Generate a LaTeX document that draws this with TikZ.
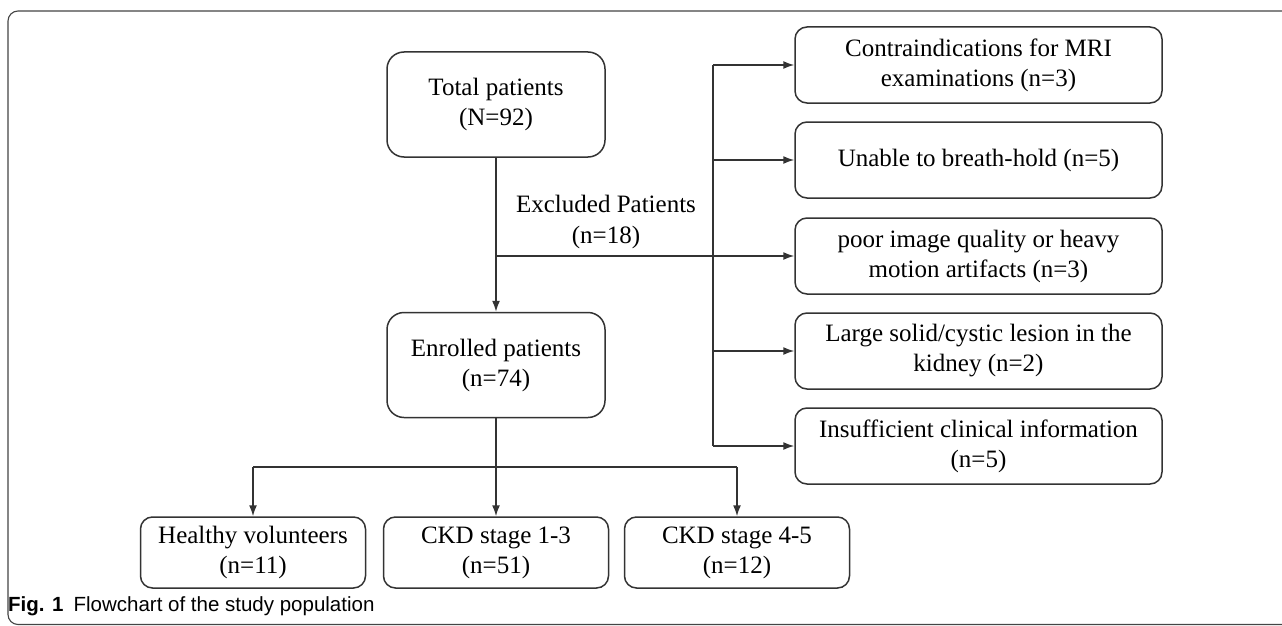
\documentclass[tikz,border=0pt]{standalone}
\usepackage{fontspec}
\setmainfont{Liberation Serif}
\setsansfont{Liberation Sans}
\usetikzlibrary{arrows.meta}

\definecolor{rule}{HTML}{333333}
\definecolor{frame}{HTML}{444444}

\begin{document}
\begin{tikzpicture}[x=1pt, y=1pt, font=\fontsize{25}{30}\selectfont,
    every node/.style={text=black}]
  \useasboundingbox (0,0) rectangle (1282,-626);
  \clip (0,0) rectangle (1282,-626);

  % Figure frame, cut off at the right and bottom edges.
  \draw[frame, line width=1.1pt, rounded corners=10pt] (8,-11) rectangle (1300,-624.5);

  \tikzset{
    box/.style={draw=rule, line width=1.5pt, rounded corners=12pt, align=center,
      inner sep=0pt, minimum height=76pt, minimum width=367pt},
    bigbox/.style={box, rounded corners=17pt, minimum width=218pt, minimum height=105pt},
    groupbox/.style={box, minimum width=225pt, minimum height=71pt},
    link/.style={draw=rule, line width=1.5pt},
    arrow/.style={link, -{Latex[length=11pt,width=8pt]}}
  }

  % Main column
  \node[bigbox] (total) at (496,-104.5) {Total patients\\(N=92)};
  \node[bigbox] (enrolled) at (496,-365) {Enrolled patients\\(n=74)};

  % Exclusion reasons
  \node[box] (ex1) at (978.5,-65) {Contraindications for MRI\\examinations (n=3)};
  \node[box] (ex2) at (978.5,-160) {Unable to breath-hold (n=5)};
  \node[box] (ex3) at (978.5,-256) {poor image quality or heavy\\motion artifacts (n=3)};
  \node[box] (ex4) at (978.5,-351) {Large solid/cystic lesion in the\\kidney (n=2)};
  \node[box] (ex5) at (978.5,-446) {Insufficient clinical information\\(n=5)};

  % Groups
  \node[groupbox] (healthy) at (253,-552.5) {Healthy volunteers\\(n=11)};
  \node[groupbox] (early) at (496,-552.5) {CKD stage 1-3\\(n=51)};
  \node[groupbox] (late) at (737,-552.5) {CKD stage 4-5\\(n=12)};

  \node[align=center, font=\fontsize{25}{31}\selectfont] (excluded) at (606,-222)
    {Excluded Patients\\(n=18)};

  \coordinate (branch) at (713,-256);
  \coordinate (bus) at (496,-467);

  \draw[arrow] (total) -- (enrolled);
  \draw[arrow] (total.south |- ex3.west) -- (ex3.west);
  \draw[link] (branch |- ex1.west) -- (branch |- ex5.west);
  \foreach \n in {ex1,ex2,ex4,ex5}
    \draw[arrow] (branch |- \n.west) -- (\n.west);

  \draw[link] (enrolled) -- (bus);
  \draw[link] (healthy.north |- bus) -- (late.north |- bus);
  \foreach \n in {healthy,early,late}
    \draw[arrow] (\n.north |- bus) -- (\n.north);

  % Caption
  \node[anchor=base west, inner sep=0pt, font=\sffamily\fontsize{20.5}{23}\selectfont]
    (caption) at (8,-611) {\textbf{Fig. 1}\hspace{10pt}Flowchart of the study population};
\end{tikzpicture}
\end{document}
